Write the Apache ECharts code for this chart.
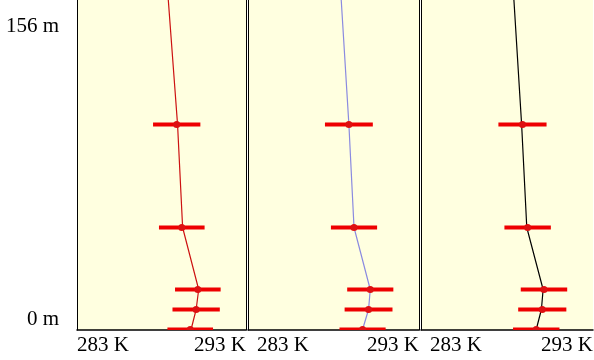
<!DOCTYPE html>
<html><head><meta charset="utf-8">
<script src="https://cdn.jsdelivr.net/npm/echarts@6/dist/echarts.min.js"></script>
<style>html,body{margin:0;padding:0;background:#fff}#c{width:594px;height:360px}</style>
</head><body><div id="c"></div>
<script>
// Observations (red error bars) – heights in m, temperature in K
const obsHeights = [0, 10, 20, 51, 102.5];
const obsTemps = [289.7, 290.05, 290.15, 289.2, 288.9];
const obsErrors = [1.35, 1.4, 1.35, 1.35, 1.4];
// Model profiles (one per panel)
const profileHeights = [0, 10, 20, 51, 102.5, 165];
const profileRed = [289.75, 290.05, 290.2, 289.25, 288.95, 288.4];
const profileBlue = [289.7, 290.05, 290.15, 289.2, 288.9, 288.45];
const profileBlack = [289.7, 290.0, 290.1, 289.15, 288.85, 288.4];
const xTickValues = [283, 293];
const yTickValues = [0, 156];

const profiles = [profileRed, profileBlue, profileBlack];
const layout = [
  {left: 77, width: 169, color: '#cc1111', rightLine: true, minPad: 0},
  {left: 248, width: 171, color: '#8a8ae0', rightLine: true, minPad: 9},
  {left: 421, width: 172, color: '#000000', rightLine: false, minPad: 9}
];
const FONT = 'Liberation Serif';
const FS = 21;
const Y_MIN = -0.25, Y_MAX = 164.75;

const grids = [], xAxes = [], yAxes = [], series = [];
layout.forEach((p, i) => {
  grids.push({left: p.left, width: p.width, top: 0, bottom: 30, show: true,
    outerBoundsMode: 'none', containLabel: false,
    backgroundColor: '#ffffe0', borderWidth: 0});
  xAxes.push({type: 'value', gridIndex: i, min: xTickValues[0], max: xTickValues[1],
    axisLine: {show: true, onZero: false, lineStyle: {color: '#000', width: 1.5}},
    axisTick: {show: false}, splitLine: {show: false},
    axisLabel: {customValues: xTickValues, margin: 5, color: '#000',
      fontFamily: FONT, fontSize: FS,
      alignMinLabel: 'left', alignMaxLabel: 'right',
      formatter: v => (v === xTickValues[0] ? '{a|' + v + ' K}' : '{b|' + v + ' K}'),
      rich: {a: {fontFamily: FONT, fontSize: FS, color: '#000', padding: [0, 0, 0, p.minPad]},
             b: {fontFamily: FONT, fontSize: FS, color: '#000'}}}
  });
  yAxes.push({type: 'value', gridIndex: i, min: Y_MIN, max: Y_MAX,
    axisLine: {show: true, lineStyle: {color: '#000', width: 1}},
    axisTick: {show: false}, splitLine: {show: false},
    axisLabel: i === 0 ? {customValues: yTickValues, margin: 18, color: '#000',
      fontFamily: FONT, fontSize: FS,
      formatter: v => (v === 0 ? '{lo|' + v + ' m}' : '{hi|' + v + ' m}'),
      rich: {lo: {fontFamily: FONT, fontSize: FS, color: '#000', padding: [0, 0, 20, 0]},
             hi: {fontFamily: FONT, fontSize: FS, color: '#000', padding: [18, 0, 0, 0]}}}
      : {show: false}
  });
  if (p.rightLine) {
    yAxes.push({type: 'value', gridIndex: i, min: Y_MIN, max: Y_MAX, position: 'right',
      axisLine: {show: true, lineStyle: {color: '#000', width: 1}},
      axisTick: {show: false}, splitLine: {show: false}, axisLabel: {show: false}});
  }
});

let yIdx = 0;
layout.forEach((p, i) => {
  const yAxisIndex = yIdx;
  yIdx += p.rightLine ? 2 : 1;
  const prof = profiles[i];
  series.push({type: 'line', xAxisIndex: i, yAxisIndex: yAxisIndex,
    data: profileHeights.map((h, k) => [prof[k], h]),
    showSymbol: false, lineStyle: {color: p.color, width: 1.2}, z: 2, clip: true, animation: false});
  series.push({type: 'custom', xAxisIndex: i, yAxisIndex: yAxisIndex, clip: true, z: 3,
    animation: false,
    data: obsHeights.map((h, k) => [obsTemps[k], h, obsErrors[k]]),
    encode: {x: 0, y: 1},
    renderItem: (params, api) => {
      const t = api.value(0), h = api.value(1), e = api.value(2);
      const a = api.coord([t - e, h]), b = api.coord([t + e, h]), c = api.coord([t, h]);
      return {type: 'group', children: [
        {type: 'line', shape: {x1: a[0], y1: a[1], x2: b[0], y2: b[1]},
          style: {stroke: '#ee0000', lineWidth: 4}},
        {type: 'circle', shape: {cx: c[0], cy: c[1], r: 3.5},
          style: {fill: '#dd1111'}}
      ]};
    }
  });
});

const chart = echarts.init(document.getElementById('c'), null, {renderer: 'canvas'});
chart.setOption({animation: false, grid: grids, xAxis: xAxes, yAxis: yAxes, series: series});
</script>
</body></html>
